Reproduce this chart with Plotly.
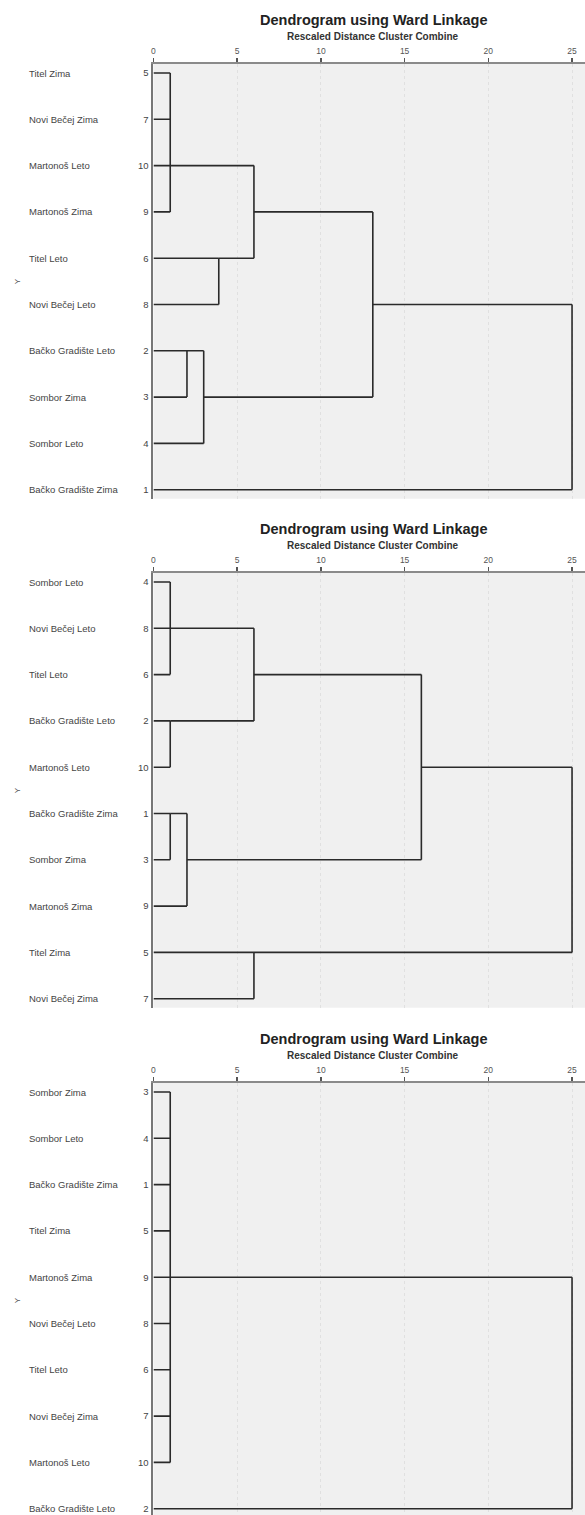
import plotly.graph_objects as go

# ---------------- data ----------------
labels_1 = ["Titel Zima", "Novi Bečej Zima", "Martonoš Leto", "Martonoš Zima", "Titel Leto",
            "Novi Bečej Leto", "Bačko Gradište Leto", "Sombor Zima", "Sombor Leto", "Bačko Gradište Zima"]
cases_1 = [5, 7, 10, 9, 6, 8, 2, 3, 4, 1]
# merges: (children node ids, rescaled distance, row of the merged line); leaves are 0..9
merges_1 = [
    ([0, 1, 2, 3], 1.0, 3),
    ([4, 5], 3.9, 5),
    ([10, 11], 6.0, 4),
    ([6, 7], 2.0, 7),
    ([13, 8], 3.0, 8),
    ([12, 14], 13.1, 6),
    ([15, 9], 25.0, None),
]

labels_2 = ["Sombor Leto", "Novi Bečej Leto", "Titel Leto", "Bačko Gradište Leto", "Martonoš Leto",
            "Bačko Gradište Zima", "Sombor Zima", "Martonoš Zima", "Titel Zima", "Novi Bečej Zima"]
cases_2 = [4, 8, 6, 2, 10, 1, 3, 9, 5, 7]
merges_2 = [
    ([0, 1, 2], 1.0, 2),
    ([3, 4], 1.0, 4),
    ([10, 11], 6.0, 3),
    ([5, 6], 1.0, 6),
    ([13, 7], 2.0, 7),
    ([12, 14], 16.0, 5),
    ([8, 9], 6.0, 9),
    ([15, 16], 25.0, None),
]

labels_3 = ["Sombor Zima", "Sombor Leto", "Bačko Gradište Zima", "Titel Zima", "Martonoš Zima",
            "Novi Bečej Leto", "Titel Leto", "Novi Bečej Zima", "Martonoš Leto", "Bačko Gradište Leto"]
cases_3 = [3, 4, 1, 5, 9, 8, 6, 7, 10, 2]
merges_3 = [
    ([0, 1, 2, 3, 4, 5, 6, 7, 8], 1.0, 5),
    ([10, 9], 25.0, None),
]

x_ticks = [0, 5, 10, 15, 20, 25]
title_text = "Dendrogram using Ward Linkage"
subtitle_text = "Rescaled Distance Cluster Combine"
axis_title = "Y"

panels = [(labels_1, cases_1, merges_1), (labels_2, cases_2, merges_2), (labels_3, cases_3, merges_3)]

# ---------------- layout constants (pixels) ----------------
W, H = 585, 1515
X0_PX = 152          # pixel of distance 0
PX_PER_UNIT = 16.8
ROW_PX = 46.3
axis_top_px = [64, 573, 1083]
FONT = "Arial, Liberation Sans, sans-serif"


def segments(n_leaves, merges):
    pos = {i: (i + 1, 0.0) for i in range(n_leaves)}
    xs, ys = [], []
    nid = n_leaves
    for children, d, out_row in merges:
        cy = []
        for c in children:
            y, h = pos[c]
            xs += [h, d, None]
            ys += [y, y, None]
            cy.append(y)
        xs += [d, d, None]
        ys += [min(cy), max(cy), None]
        if out_row is not None:
            pos[nid] = (out_row, d)
        nid += 1
    return xs, ys


fig = go.Figure()
annotations = []
layout = {}
x_end = (W - X0_PX) / PX_PER_UNIT

for k, (labels, cases, merges) in enumerate(panels):
    idx = "" if k == 0 else str(k + 1)
    top = axis_top_px[k]
    bottom = min(top + 9 + 9 * ROW_PX + 9, H)
    r_top = 1 - 9 / ROW_PX
    r_bot = 1 + (bottom - top - 9) / ROW_PX
    xs, ys = segments(len(labels), merges)
    fig.add_trace(go.Scatter(x=xs, y=ys, mode="lines", xaxis="x" + idx, yaxis="y" + idx,
                             line=dict(color="#2a2a2a", width=1.6), hoverinfo="skip",
                             showlegend=False))
    layout["xaxis" + idx] = dict(
        domain=[X0_PX / W, 1], range=[0, x_end], side="top", anchor="y" + idx,
        tickvals=x_ticks, ticks="outside", ticklen=4, tickcolor="#555", tickwidth=1.5,
        tickfont=dict(size=8.5, color="#555", family=FONT),
        showline=True, linecolor="#8a8a8a", linewidth=2.5,
        showgrid=True, gridcolor="#e0e0e0", griddash="dot", gridwidth=1,
        zeroline=False, fixedrange=True,
    )
    layout["yaxis" + idx] = dict(
        domain=[1 - bottom / H, 1 - top / H], range=[r_bot, r_top], anchor="x" + idx,
        tickvals=list(range(1, len(labels) + 1)), ticktext=[str(c) for c in cases],
        ticks="", tickfont=dict(size=9.5, color="#444", family=FONT), ticklabelstandoff=1,
        showline=True, linecolor="#777", linewidth=2,
        showgrid=False, zeroline=False, fixedrange=True,
    )
    for i, lab in enumerate(labels):
        annotations.append(dict(text=lab, x=25 / W, xref="paper", xanchor="left",
                                y=i + 1, yref="y" + idx, yanchor="middle", showarrow=False,
                                font=dict(size=9.5, color="#444", family=FONT)))
    annotations.append(dict(text=axis_title, textangle=-90, x=15 / W, xref="paper",
                            xanchor="center", y=5.5, yref="y" + idx, yanchor="middle",
                            showarrow=False, font=dict(size=8, color="#555", family=FONT)))
    annotations.append(dict(text="<b>" + title_text + "</b>", x=373 / W, xref="paper",
                            y=1 - (top - 44) / H, yref="paper", yanchor="middle",
                            xanchor="center", showarrow=False,
                            font=dict(size=14.5, color="#222", family=FONT)))
    annotations.append(dict(text="<b>" + subtitle_text + "</b>", x=372 / W, xref="paper",
                            y=1 - (top - 28) / H, yref="paper", yanchor="middle",
                            xanchor="center", showarrow=False,
                            font=dict(size=10, color="#333", family=FONT)))

fig.update_layout(
    width=W, height=H, margin=dict(l=0, r=0, t=0, b=0),
    paper_bgcolor="white", plot_bgcolor="#f0f0f0",
    annotations=annotations, **layout,
)
fig.write_html(
    "out.html",
    config={"displayModeBar": False, "staticPlot": True},
    post_script="document.body.style.margin='0';document.body.style.padding='0';"
                "document.body.style.overflow='hidden';",
)
